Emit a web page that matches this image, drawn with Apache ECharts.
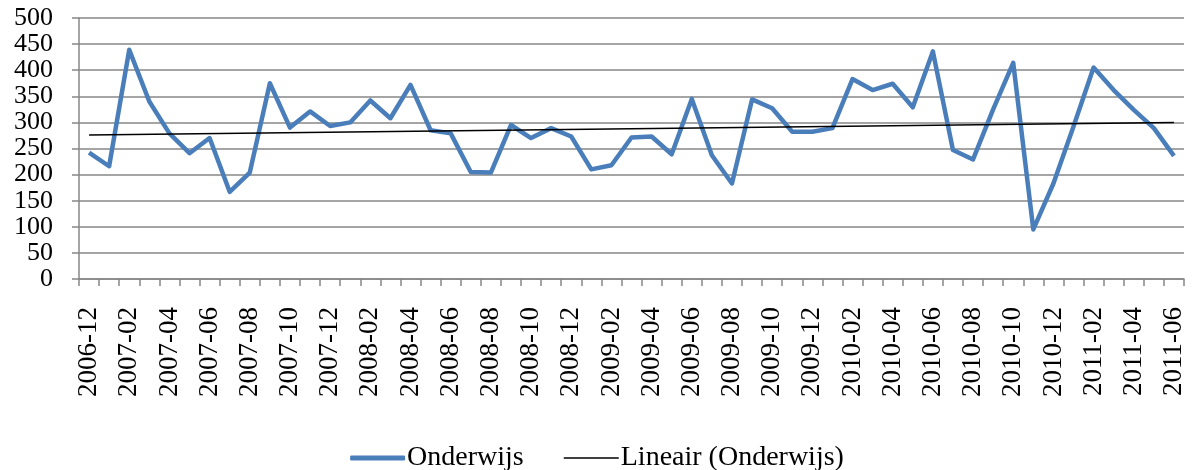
<!DOCTYPE html>
<html>
<head>
<meta charset="utf-8">
<script src="https://cdn.jsdelivr.net/npm/echarts@6/dist/echarts.min.js"></script>
<style>
  html, body { margin: 0; padding: 0; background: #fff; }
  #chart { width: 1194px; height: 470px; }
</style>
</head>
<body>
<div id="chart"></div>
<script>
  // maanden 2006-12 .. 2011-06
  const months = [
    '2006-12','2007-01','2007-02','2007-03','2007-04','2007-05','2007-06','2007-07','2007-08','2007-09','2007-10','2007-11','2007-12',
    '2008-01','2008-02','2008-03','2008-04','2008-05','2008-06','2008-07','2008-08','2008-09','2008-10','2008-11','2008-12',
    '2009-01','2009-02','2009-03','2009-04','2009-05','2009-06','2009-07','2009-08','2009-09','2009-10','2009-11','2009-12',
    '2010-01','2010-02','2010-03','2010-04','2010-05','2010-06','2010-07','2010-08','2010-09','2010-10','2010-11','2010-12',
    '2011-01','2011-02','2011-03','2011-04','2011-05','2011-06'
  ]
  const onderwijs = [
    242, 216, 439, 340, 279, 241, 270, 167, 204, 375, 290, 321, 293,
    300, 342, 308, 372, 285, 279, 205, 204, 295, 270, 289, 273,
    210, 218, 271, 273, 239, 345, 237, 183, 344, 327, 282, 282,
    289, 383, 362, 374, 329, 436, 247, 229, 325, 414, 95, 183,
    292, 405, 362, 324, 289, 236
  ]
  const trendEnds = [276, 300]
  const yTicks = { min: 0, max: 500, interval: 50 }

  const trend = months.map((m, i) => i === 0 ? trendEnds[0] : (i === months.length - 1 ? trendEnds[1] : null))

  const font = 'Liberation Serif'
  const chart = echarts.init(document.getElementById('chart'))
  chart.setOption({
    animation: false,
    grid: { left: 79, right: 10, top: 18, bottom: 191, containLabel: false },
    legend: {
      top: 439,
      left: 'center',
      itemWidth: 55,
      itemHeight: 5,
      itemGap: 40,
      textStyle: { fontFamily: font, fontSize: 28, color: '#000', padding: [0, 0, 0, -3] },
      data: [
        { name: 'Onderwijs', icon: 'roundRect' },
        { name: 'Lineair (Onderwijs)', icon: 'path://M0,0L110,0L110,3L0,3Z' }
      ]
    },
    xAxis: {
      type: 'category',
      data: months,
      boundaryGap: true,
      axisLine: { lineStyle: { color: '#878787', width: 1.5 } },
      axisTick: { show: true, interval: 0, length: 7, lineStyle: { color: '#878787', width: 1.5 } },
      axisLabel: {
        interval: 1,
        rotate: 90,
        margin: 28,
        fontFamily: font,
        fontSize: 27,
        color: '#000'
      },
      splitLine: { show: false }
    },
    yAxis: {
      type: 'value',
      min: yTicks.min,
      max: yTicks.max,
      interval: yTicks.interval,
      axisLine: { show: true, lineStyle: { color: '#878787', width: 1.5 } },
      axisTick: { show: true, length: 7, lineStyle: { color: '#878787', width: 1.5 } },
      axisLabel: { fontFamily: font, fontSize: 26, color: '#000', margin: 26 },
      splitLine: { lineStyle: { color: '#878787', width: 1.5 } }
    },
    series: [
      {
        name: 'Onderwijs',
        type: 'line',
        data: onderwijs,
        symbol: 'none',
        itemStyle: { color: '#4a7ebb' },
        lineStyle: { color: '#4a7ebb', width: 4.5, join: 'round' }
      },
      {
        name: 'Lineair (Onderwijs)',
        type: 'line',
        data: trend,
        connectNulls: true,
        symbol: 'none',
        itemStyle: { color: '#000' },
        lineStyle: { color: '#000', width: 1.5 }
      }
    ]
  })
</script>
</body>
</html>
